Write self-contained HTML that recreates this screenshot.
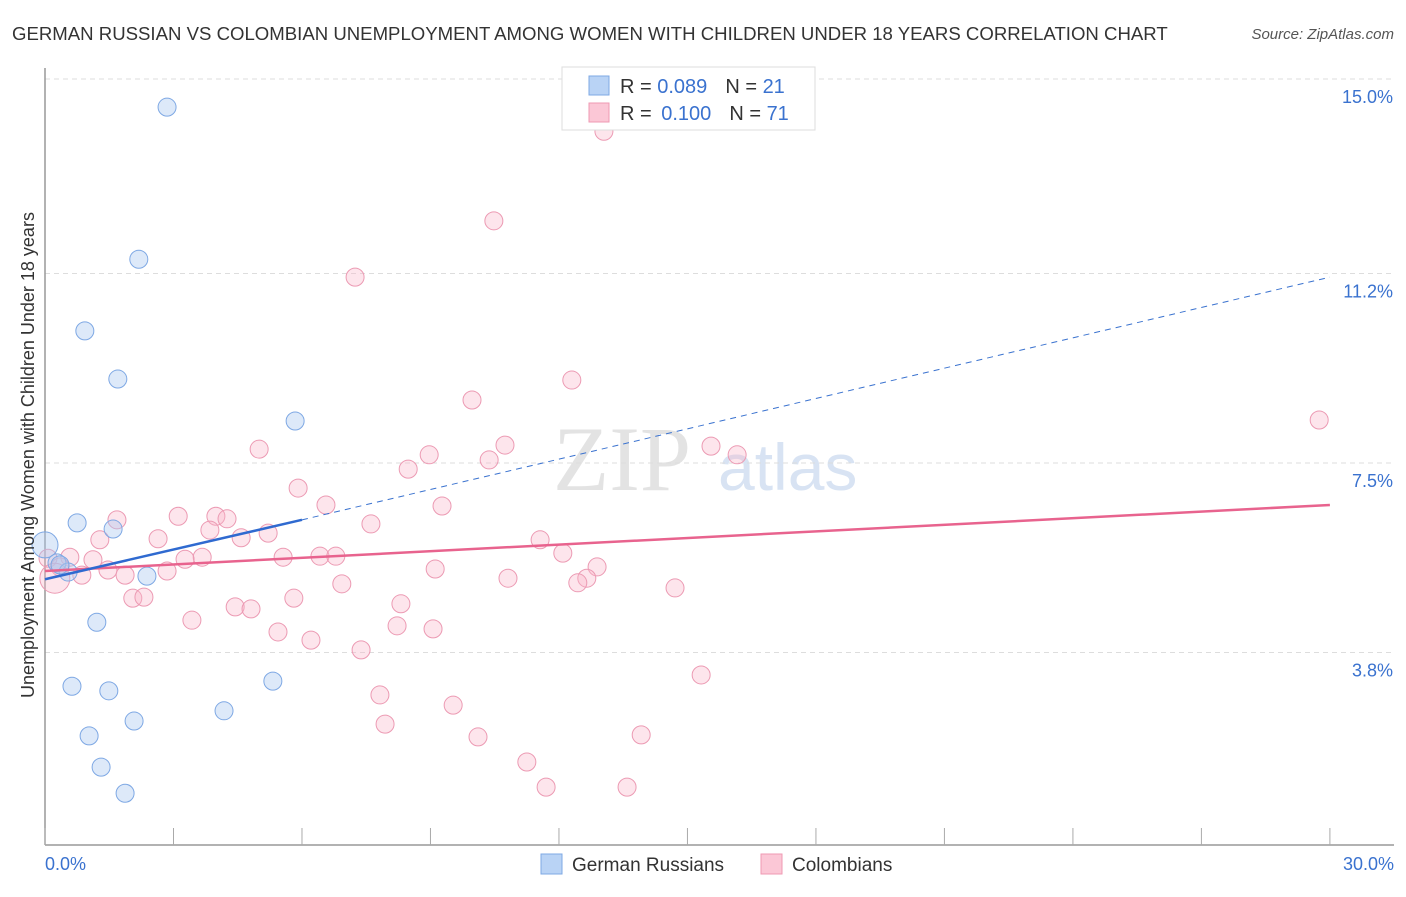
<!DOCTYPE html>
<html><head><meta charset="utf-8"><style>
body{margin:0;background:#fff;font-family:"Liberation Sans",sans-serif}
</style></head><body>
<svg width="1406" height="892" xmlns="http://www.w3.org/2000/svg" font-family="Liberation Sans, sans-serif">
<text x="12" y="40" font-size="18.6" fill="#333">GERMAN RUSSIAN VS COLOMBIAN UNEMPLOYMENT AMONG WOMEN WITH CHILDREN UNDER 18 YEARS CORRELATION CHART</text>
<text x="1394" y="39" font-size="15" fill="#555" font-style="italic" text-anchor="end">Source: ZipAtlas.com</text>
<g>
<text x="553" y="490" font-size="92" fill="#d8d8d8" font-family="Liberation Serif, serif" opacity="0.7">ZIP</text>
<text x="718" y="490" font-size="66" fill="#c8d8ee" opacity="0.7">atlas</text>
</g>
<g id="grid"></g>
<g id="axes"></g>
<g id="marks"></g>
<text transform="translate(34,455) rotate(-90)" font-size="18" fill="#333" text-anchor="middle">Unemployment Among Women with Children Under 18 years</text>
<g>
<rect x="562" y="67" width="253" height="63" fill="#fff" stroke="#ddd"/>
<rect x="589" y="76" width="20" height="19" fill="#b9d3f5" stroke="#7ea8e4"/>
<rect x="589" y="103" width="20" height="19" fill="#fbc7d6" stroke="#ef9ab3"/>
<text x="620" y="93" font-size="20" fill="#333">R = <tspan fill="#3a72cf">0.089</tspan><tspan dx="18">N = </tspan><tspan fill="#3a72cf">21</tspan></text>
<text x="620" y="120" font-size="20" fill="#333">R = <tspan fill="#3a72cf" dx="4">0.100</tspan><tspan dx="18">N = </tspan><tspan fill="#3a72cf">71</tspan></text>
</g>
<g>
<rect x="541" y="854" width="21" height="20" fill="#b9d3f5" stroke="#7ea8e4"/>
<text x="572" y="871" font-size="19" fill="#333">German Russians</text>
<rect x="761" y="854" width="21" height="20" fill="#fbc7d6" stroke="#ef9ab3"/>
<text x="792" y="871" font-size="19" fill="#333">Colombians</text>
</g>
</svg>
<script>
const yTicks=[15.0,11.2,7.5,3.8];
const yTickLabels=["15.0%","11.2%","7.5%","3.8%"];
const xTicks=[0,3,6,9,12,15,18,21,24,27,30];
const blueX=[2.85,2.19,0.93,1.70,5.84,0.75,1.59,0,0.28,0.54,2.38,1.21,0.63,1.49,5.32,4.18,2.08,1.03,1.31,1.87,0.35];
const blueY=[14.45,11.48,10.08,9.14,8.32,6.33,6.21,5.90,5.55,5.37,5.29,4.39,3.14,3.05,3.24,2.66,2.46,2.17,1.56,1.05,5.51];
const pinkX=[13.05,10.48,7.24,12.30,9.97,29.75,10.74,15.55,16.16,5.00,8.97,10.37,8.48,5.91,6.56,9.27,3.11,3.99,1.68,4.25,7.61,3.85,5.21,4.58,2.64,1.28,11.56,12.09,5.56,6.42,6.79,3.67,3.27,1.12,0.58,0.07,0.35,9.11,12.89,2.85,1.47,1.87,0.86,10.81,12.65,12.44,6.93,14.71,0.23,5.81,2.05,2.31,4.44,4.81,8.31,3.43,8.22,9.06,5.44,6.21,7.38,15.32,7.82,9.53,7.94,13.92,10.11,11.25,11.70,13.59];
const pinkY=[13.98,12.23,11.13,9.12,8.73,8.34,7.85,7.83,7.66,7.77,7.66,7.56,7.38,7.01,6.68,6.66,6.46,6.46,6.39,6.41,6.31,6.19,6.13,6.04,6.02,6.00,6.00,5.74,5.66,5.68,5.68,5.66,5.62,5.61,5.66,5.64,5.47,5.43,5.47,5.39,5.41,5.31,5.31,5.25,5.25,5.16,5.14,5.06,5.25,4.86,4.86,4.88,4.69,4.65,4.75,4.43,4.32,4.26,4.20,4.04,3.85,3.36,2.97,2.77,2.40,2.19,2.15,1.66,1.17,1.17];
const blueTrend=[5.23,6.39,11.13]; // at x=0, 6, 30
const pinkTrend=[5.39,6.68]; // at x=0, 30
const NS="http://www.w3.org/2000/svg";
const sx=v=>45+v*42.83, sy=v=>79+(15-v)*51.2;
function mk(t,a,p){const e=document.createElementNS(NS,t);for(const k in a)e.setAttribute(k,a[k]);p.appendChild(e);return e;}
const grid=document.getElementById('grid'),axes=document.getElementById('axes'),marks=document.getElementById('marks');
yTicks.forEach((v,i)=>{
 const l=mk('line',{x1:45,x2:1394,y1:sy(v),y2:sy(v),stroke:'#ddd','stroke-dasharray':'5,4'},grid);
 
 
 const t=mk('text',{x:1393,y:sy(v)+24,'font-size':18,fill:'#3a72cf','text-anchor':'end'},axes);
 t.textContent=yTickLabels[i];
 
 
});
let a=mk('line',{x1:45,x2:45,y1:68,y2:845,stroke:'#999','stroke-width':1.5},axes);


a=mk('line',{x1:45,x2:1394,y1:845,y2:845,stroke:'#999','stroke-width':1.5},axes);


xTicks.forEach(v=>{const t=mk('line',{x1:sx(v),x2:sx(v),y1:828,y2:845,stroke:'#aaa'},axes);
 
 });
let xl=mk('text',{x:45,y:870,'font-size':18,fill:'#3a72cf'},axes);xl.textContent='0.0%';


xl=mk('text',{x:1394,y:870,'font-size':18,fill:'#3a72cf','text-anchor':'end'},axes);xl.textContent='30.0%';


pinkX.forEach((x,i)=>{const c=mk('circle',{cx:sx(x),cy:sy(pinkY[i]),r:i==48?15:9,fill:'rgba(248,180,200,0.35)',stroke:'#ec9ab3','stroke-width':1},marks);
 
 });
blueX.forEach((x,i)=>{const c=mk('circle',{cx:sx(x),cy:sy(blueY[i]),r:i==7?13:9,fill:'rgba(170,200,240,0.4)',stroke:'#7ea8e4','stroke-width':1},marks);
 
 });
let tl=mk('line',{x1:sx(6),y1:sy(blueTrend[1]),x2:sx(30),y2:sy(blueTrend[2]),stroke:'#3a72cf','stroke-width':1,'stroke-dasharray':'6,5'},marks);


tl=mk('line',{x1:sx(0),y1:sy(pinkTrend[0]),x2:sx(30),y2:sy(pinkTrend[1]),stroke:'#e8638e','stroke-width':2.5},marks);


tl=mk('line',{x1:sx(0),y1:sy(blueTrend[0]),x2:sx(6),y2:sy(blueTrend[1]),stroke:'#2f6ad0','stroke-width':2.5},marks);


</script>
</body></html>
